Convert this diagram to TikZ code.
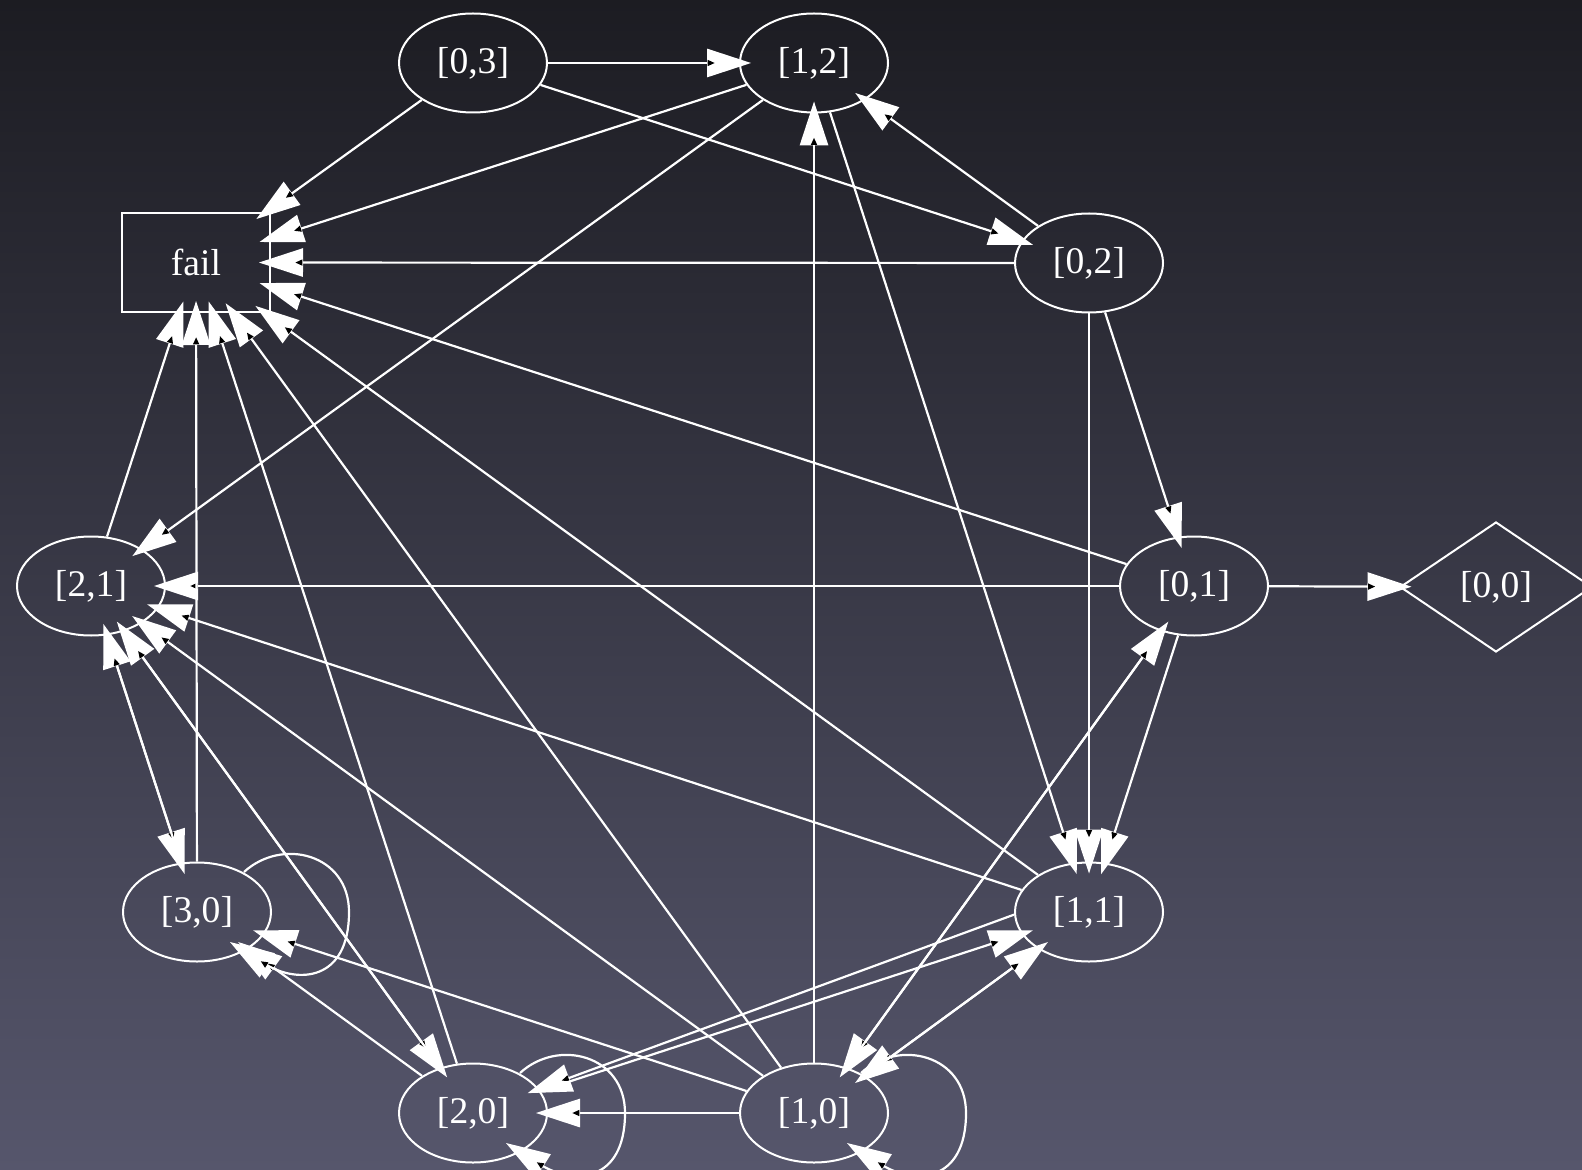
\documentclass[tikz,border=0pt]{standalone}
\usepackage{fontspec}
\setmainfont{Liberation Serif}
\usetikzlibrary{arrows.meta,shapes.geometric,calc}

\pgfdeclarearrow{
  name = GV,
  setup code = {
    \pgfarrowssettipend{22pt}
    \pgfarrowssetlineend{1.5pt}
    \pgfarrowssetbackend{0pt}
    \pgfarrowssetvisualbackend{0pt}
    \pgfarrowshullpoint{22pt}{0pt}
    \pgfarrowsupperhullpoint{0pt}{7.2pt}
  },
  drawing code = {
    \pgfpathmoveto{\pgfpoint{22pt}{0pt}}
    \pgfpathlineto{\pgfpoint{0pt}{7.2pt}}
    \pgfpathlineto{\pgfpoint{0pt}{-7.2pt}}
    \pgfpathclose
    \pgfsetfillcolor{white}
    \pgfusepathqfill
    \pgfpathmoveto{\pgfpoint{3.8pt}{0pt}}
    \pgfpathlineto{\pgfpoint{0.3pt}{1.6pt}}
    \pgfpathlineto{\pgfpoint{0.3pt}{-1.6pt}}
    \pgfpathclose
    \pgfsetfillcolor{black}
    \pgfusepathqfill
  }
}

\definecolor{bgtop}{RGB}{28,28,34}
\definecolor{bgbot}{RGB}{86,86,108}

\begin{document}
\begin{tikzpicture}[x=0.5pt,y=-0.5pt,
  gvnode/.style={ellipse, draw=white, line width=1pt, minimum width=74pt, minimum height=49.5pt, inner sep=0pt, text=white, font=\fontsize{18.8}{22}\selectfont},
  gvbox/.style={rectangle, draw=white, line width=1pt, minimum width=74pt, minimum height=49.5pt, inner sep=0pt, text=white, font=\fontsize{18.8}{22}\selectfont},
  gvdiam/.style={diamond, draw=white, line width=1pt, shape aspect=1.48, minimum width=96pt, minimum height=65pt, inner sep=0pt, text=white, font=\fontsize{18.8}{22}\selectfont},
  gvedge/.style={draw=white, line width=1.1pt, shorten >=-6pt, -{GV}},
  gvloop/.style={draw=white, line width=1.1pt, -{GV}}
]
\path[use as bounding box] (0,0) rectangle (1582,1170);
\shade[top color=bgtop, bottom color=bgbot] (0,0) rectangle (1582,1170);

\node[gvnode] (n03) at (473,63) {[0,3]};
\node[gvnode] (n12) at (814,63) {[1,2]};
\node[gvbox] (fail) at (196,262.5) {fail};
\node[gvnode] (n02) at (1089,263) {[0,2]};
\node[gvnode] (n21) at (91,586) {[2,1]};
\node[gvnode] (n01) at (1194,586) {[0,1]};
\node[gvdiam] (n00) at (1496,587) {[0,0]};
\node[gvnode] (n30) at (197,912) {[3,0]};
\node[gvnode] (n11) at (1089,912) {[1,1]};
\node[gvnode] (n20) at (473,1113) {[2,0]};
\node[gvnode] (n10) at (814,1113) {[1,0]};

\draw[gvedge] (n03) -- (n12);
\draw[gvedge] (n03) -- (fail);
\draw[gvedge] (n03) -- (n02);
\draw[gvedge] (n12) -- (fail);
\draw[gvedge] (n12) -- (n21);
\draw[gvedge] (n12) -- (n11);
\draw[gvedge] (n02) -- (n12);
\draw[gvedge] (n02) -- (fail);
\draw[gvedge] (n02) -- (n01);
\draw[gvedge] (n02) -- (n11);
\draw[gvedge] (n01) -- (fail);
\draw[gvedge] (n01) -- (n21);
\draw[gvedge] (n01) -- (n00);
\draw[gvedge] (n01) -- (n11);
\draw[gvedge] (n01) -- (n10);
\draw[gvedge] (n11) -- (fail);
\draw[gvedge] (n11) -- (n21);
\draw[gvedge] (n11) -- (n10);
\draw[gvedge] (n11.182) -- (n20.20);
\draw[gvedge] (n21) -- (fail);
\draw[gvedge] (n21) -- (n30);
\draw[gvedge] (n21) -- (n20);
\draw[gvedge] (n30) -- (fail);
\draw[gvedge] (n30) -- (n21);
\draw[gvedge] (n20) -- (fail);
\draw[gvedge] (n20) -- (n21);
\draw[gvedge] (n20) -- (n30);
\draw[gvedge] (n20) -- (n11);
\draw[gvedge] (n10) -- (n12);
\draw[gvedge] (n10) -- (fail);
\draw[gvedge] (n10) -- (n21);
\draw[gvedge] (n10) -- (n30);
\draw[gvedge] (n10) -- (n20);
\draw[gvedge] (n10) -- (n11);
\draw[gvedge] (n10) -- (n01);

\foreach \n in {n30,n20,n10}{
  \draw[gvloop] ($(\n.center)+(47,-40)$) .. controls ($(\n.center)+(85,-75)$) and ($(\n.center)+(152,-58)$) .. ($(\n.center)+(152,0)$)
    .. controls ($(\n.center)+(152,70)$) and ($(\n.center)+(100,72)$) .. ($(\n.center)+(33,30)$);
}
\end{tikzpicture}
\end{document}
